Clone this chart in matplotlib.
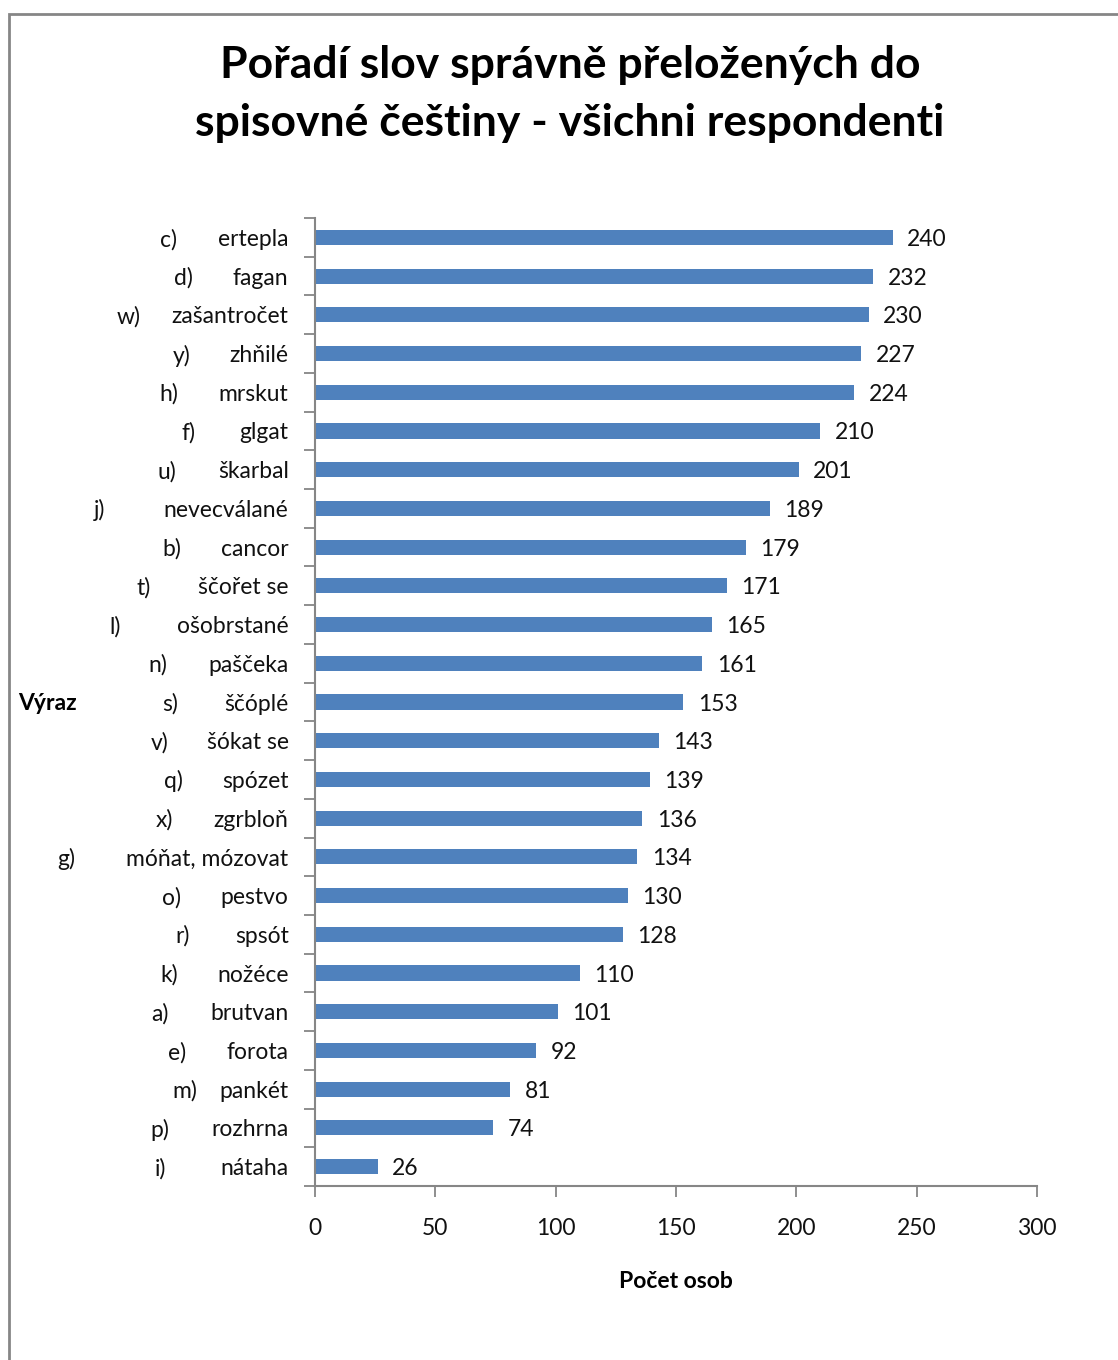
import numpy as np
import matplotlib.pyplot as plt
from matplotlib.patches import Rectangle
from matplotlib.transforms import blended_transform_factory

plt.rcParams['font.family'] = ['Lato', 'DejaVu Sans']

# Data (top to bottom as in the chart)
letters = ['c)', 'd)', 'w)', 'y)', 'h)', 'f)', 'u)', 'j)', 'b)', 't)', 'l)', 'n)', 's)',
           'v)', 'q)', 'x)', 'g)', 'o)', 'r)', 'k)', 'a)', 'e)', 'm)', 'p)', 'i)']
words = ['ertepla', 'fagan', 'zašantročet', 'zhňilé', 'mrskut', 'glgat', 'škarbal',
         'nevecválané', 'cancor', 'ščořet se', 'ošobrstané', 'paščeka', 'ščóplé',
         'šókat se', 'spózet', 'zgrbloň', 'móňat, mózovat', 'pestvo', 'spsót',
         'nožéce', 'brutvan', 'forota', 'pankét', 'rozhrna', 'nátaha']
counts = [240, 232, 230, 227, 224, 210, 201, 189, 179, 171, 165, 161, 153,
          143, 139, 136, 134, 130, 128, 110, 101, 92, 81, 74, 26]
x_ticks = [0, 50, 100, 150, 200, 250, 300]

# layout: right edge (figure px) of each letter label
letter_right_px = [177, 193, 141, 191, 178, 195, 176, 105, 181, 151, 121, 167, 178,
                   168, 183, 173, 75, 181, 190, 178, 169, 186, 197, 169, 166]

W, H = 1118, 1360
fig = plt.figure(figsize=(W / 100, H / 100), dpi=100)

# outer chart frame (right/bottom edges run off the image)
fig.patches.append(Rectangle((9 / W, -0.01), 1.2, (H - 14) / H + 0.01,
                             transform=fig.transFigure, fill=False,
                             edgecolor='#868686', linewidth=2))

ax = fig.add_axes([315 / W, 174 / H, 722 / W, 968 / H])
y = np.arange(len(counts))
ax.barh(y, counts, height=0.39, color='#4F81BD')
ax.set_ylim(len(counts) - 0.5, -0.5)
ax.set_xlim(0, 300)

for yi, v in zip(y, counts):
    ax.text(v + 6, yi, str(v), va='center_baseline', ha='left', fontsize=16.5, color='#111111')

# category labels
ax.set_yticks(y)
ax.set_yticklabels(words, fontsize=16.5, color='#111111', va='center_baseline')
ax.tick_params(axis='y', which='major', length=0, pad=19)
ax.set_yticks(np.arange(-0.5, len(counts), 1), minor=True)
ax.tick_params(axis='y', which='minor', length=8, width=1.3, color='#868686')
trans = blended_transform_factory(fig.transFigure, ax.transData)
for yi, lt, px in zip(y, letters, letter_right_px):
    ax.text(px / W, yi, lt, transform=trans, ha='right', va='center_baseline',
            fontsize=16.5, color='#111111')

ax.set_xticks(x_ticks)
ax.set_xticklabels([str(t) for t in x_ticks], fontsize=16.5, color='#111111')
ax.tick_params(axis='x', length=8, width=1.3, color='#868686', pad=15)

for s in ['top', 'right']:
    ax.spines[s].set_visible(False)
for s in ['left', 'bottom']:
    ax.spines[s].set_color('#868686')
    ax.spines[s].set_linewidth(1.5)

fig.text(570 / W, 1 - 65 / H, 'Pořadí slov správně přeložených do', ha='center', va='center',
         fontsize=32, fontweight='bold')
fig.text(570 / W, 1 - 123 / H, 'spisovné češtiny - všichni respondenti', ha='center', va='center',
         fontsize=32, fontweight='bold')
fig.text(18 / W, 1 - 703 / H, 'Výraz', ha='left', va='center', fontsize=16.5, fontweight='bold')
fig.text(676 / W, 1 - 1281 / H, 'Počet osob', ha='center', va='center', fontsize=16.5,
         fontweight='bold')

fig.savefig('out.png', dpi=100, facecolor='white')
